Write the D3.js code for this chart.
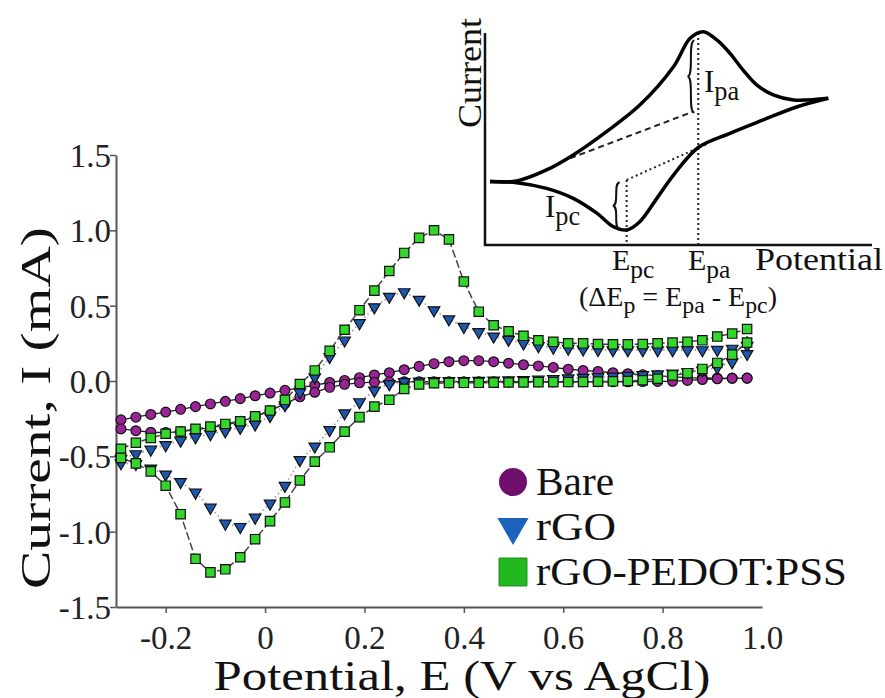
<!DOCTYPE html>
<html>
<head>
<meta charset="utf-8">
<script src="https://cdn.jsdelivr.net/npm/d3@7"></script>
<style>
  body { margin: 0; background: #fff; }
  svg { display: block; }
  svg text { font-family: "Liberation Serif", "Times New Roman", Times, serif !important; }
</style>
</head>
<body>
<svg id="chart" width="885" height="698"></svg>
<script>
// potentials shared by every sweep (V vs AgCl)
const potentials = [-0.29, -0.26, -0.23, -0.20, -0.17, -0.14, -0.11, -0.08, -0.05, -0.02,
  0.01, 0.04, 0.07, 0.10, 0.13, 0.16, 0.19, 0.22, 0.25, 0.28, 0.31, 0.34, 0.37, 0.40,
  0.43, 0.46, 0.49, 0.52, 0.55, 0.58, 0.61, 0.64, 0.67, 0.70, 0.73, 0.76, 0.79, 0.82,
  0.85, 0.88, 0.91, 0.94, 0.97];

// currents (mA), both sweeps listed in order of increasing potential
const bareForward = [-0.258, -0.240, -0.222, -0.206, -0.188, -0.170, -0.152, -0.135, -0.117, -0.098,
  -0.080, -0.062, -0.045, -0.028, -0.010, 0.004, 0.022, 0.040, 0.055, 0.075, 0.097, 0.115, 0.128, 0.135,
  0.135, 0.128, 0.118, 0.108, 0.100, 0.090, 0.078, 0.070, 0.063, 0.055, 0.048, 0.042, 0.036, 0.028,
  0.022, 0.020, 0.019, 0.019, 0.019];
const bareReverse = [-0.318, -0.330, -0.340, -0.342, -0.336, -0.325, -0.310, -0.292, -0.268, -0.238,
  -0.198, -0.150, -0.105, -0.075, -0.042, -0.022, -0.012, -0.008, -0.006, -0.005, -0.005, -0.005, -0.005, -0.005,
  -0.005, -0.005, -0.005, -0.005, -0.005, -0.005, -0.005, -0.005, -0.005, -0.005, -0.005, -0.004, -0.003, -0.002,
  0.004, 0.010, 0.015, 0.018, 0.019];

const rgoForward = [-0.515, -0.485, -0.455, -0.425, -0.395, -0.372, -0.352, -0.333, -0.310, -0.288,
  -0.232, -0.160, -0.075, 0.025, 0.160, 0.270, 0.385, 0.490, 0.560, 0.590, 0.540, 0.470, 0.410, 0.360,
  0.325, 0.296, 0.274, 0.250, 0.232, 0.222, 0.215, 0.210, 0.207, 0.205, 0.205, 0.205, 0.205, 0.205,
  0.205, 0.205, 0.207, 0.215, 0.235];
const rgoReverse = [-0.545, -0.550, -0.580, -0.620, -0.670, -0.740, -0.840, -0.946, -0.968, -0.906,
  -0.813, -0.695, -0.524, -0.434, -0.325, -0.214, -0.140, -0.063, -0.020, -0.006, -0.003, 0.000, 0.000, 0.001,
  0.002, 0.003, 0.005, 0.007, 0.010, 0.014, 0.018, 0.022, 0.026, 0.030, 0.035, 0.040, 0.045, 0.050,
  0.058, 0.070, 0.090, 0.125, 0.180];

const pedotForward = [-0.450, -0.410, -0.378, -0.350, -0.335, -0.318, -0.303, -0.285, -0.267, -0.235,
  -0.196, -0.125, -0.020, 0.070, 0.200, 0.340, 0.470, 0.600, 0.730, 0.850, 0.950, 1.000, 0.940, 0.660,
  0.460, 0.370, 0.330, 0.300, 0.270, 0.260, 0.250, 0.250, 0.245, 0.243, 0.243, 0.245, 0.250, 0.255,
  0.260, 0.270, 0.295, 0.315, 0.345];
const pedotReverse = [-0.510, -0.547, -0.600, -0.695, -0.884, -1.180, -1.270, -1.250, -1.170, -1.050,
  -0.930, -0.806, -0.660, -0.535, -0.440, -0.336, -0.240, -0.170, -0.125, -0.052, -0.023, -0.015, -0.013, -0.012,
  -0.012, -0.011, -0.010, -0.009, -0.008, -0.008, -0.007, -0.006, -0.004, -0.002, 0.000, 0.005, 0.015, 0.037,
  0.052, 0.080, 0.120, 0.175, 0.255];

const seriesNames = ["Bare", "rGO", "rGO-PEDOT:PSS"];
const xTicks = [-0.2, 0, 0.2, 0.4, 0.6, 0.8, 1.0];
const yTicks = [-1.5, -1.0, -0.5, 0.0, 0.5, 1.0, 1.5];

// inset sketch of a generic voltammogram (arbitrary units 0..100)
const insetForward = [[1.3, 29.9], [8.2, 30.2], [15.9, 35.4], [22.8, 42.5], [31.4, 53.5], [40, 66],
  [48.7, 84.1], [53, 97.5], [56.4, 100.6], [59.9, 96.7], [63.3, 90.4], [66.7, 82.5], [70.2, 75.5],
  [74.5, 70.8], [79.7, 68.4], [88.7, 69.2]];
const insetReverse = [[88.7, 69.2], [80.5, 65.1], [71.9, 59], [63.3, 52.7], [55.1, 46], [48.7, 33],
  [44.4, 22], [40, 11], [36.6, 7.1], [33.2, 8.6], [28.9, 15], [22.8, 22], [15.9, 26.7], [8.2, 29.4], [1.3, 29.9]];
const anodicBaseline = [[22, 40.9], [53.8, 62.9]];
const cathodicBaseline = [[36.6, 30.7], [57.3, 47.6]];
const epc = 36.6, epa = 55.1;

const svg = d3.select("#chart");

const x = d3.scaleLinear().domain([-0.3, 1.0]).range([116, 762]);
const y = d3.scaleLinear().domain([-1.5, 1.5]).range([607, 155]);

// axes
const xAxis = svg.append("g")
  .attr("transform", "translate(0,607)")
  .call(d3.axisBottom(x).tickValues(xTicks).tickSize(6).tickSizeOuter(0)
    .tickFormat(d => d === 0 ? "0" : d.toFixed(1)));
xAxis.selectAll(".tick").filter(d => d === 1.0).select("line").remove();
xAxis.select(".domain").attr("stroke", "#555").attr("stroke-width", 2);
xAxis.selectAll(".tick line").attr("stroke", "#555").attr("stroke-width", 1.5);
xAxis.selectAll(".tick text").attr("font-size", 33).attr("fill", "#222").attr("dy", "1.0em");

const yAxis = svg.append("g")
  .attr("transform", "translate(116,0)")
  .call(d3.axisLeft(y).tickValues(yTicks).tickSize(6).tickSizeOuter(0)
    .tickFormat(d => d.toFixed(1)));
yAxis.select(".domain").attr("stroke", "#555").attr("stroke-width", 2);
yAxis.selectAll(".tick line").attr("stroke", "#555").attr("stroke-width", 1.5);
yAxis.selectAll(".tick text").attr("font-size", 33).attr("fill", "#222").attr("x", -5).attr("dy", "0.35em");

svg.append("text")
  .attr("transform", "translate(50,408) rotate(-90)")
  .attr("text-anchor", "middle")
  .attr("font-size", 42).attr("fill", "#111")
  .attr("textLength", 362).attr("lengthAdjust", "spacingAndGlyphs")
  .text("Current, I (mA)");

svg.append("text")
  .attr("x", 462).attr("y", 690)
  .attr("text-anchor", "middle")
  .attr("font-size", 42).attr("fill", "#111")
  .attr("textLength", 497).attr("lengthAdjust", "spacingAndGlyphs")
  .text("Potential, E (V vs AgCl)");

// data
const series = [
  { name: seriesNames[0], fwd: bareForward, rev: bareReverse, symbol: d3.symbolCircle, size: 76, rotate: 0,
    fill: "#9a2496", legendFill: "#6e0f6c", stroke: "#222", width: 1.3, dash: null, labelLen: 78 },
  { name: seriesNames[1], fwd: rgoForward, rev: rgoReverse, symbol: d3.symbolTriangle, size: 58, rotate: 180,
    fill: "#1d58b0", legendFill: "#1a63bd", stroke: "#999", width: 1.6, dash: "1.5,3", labelLen: 80 },
  { name: seriesNames[2], fwd: pedotForward, rev: pedotReverse, symbol: d3.symbolSquare, size: 88, rotate: 0,
    fill: "#33d62a", legendFill: "#22b820", stroke: "#444", width: 1.5, dash: "8,3", labelLen: 311 }
];

const line = d3.line().x(d => x(d[0])).y(d => y(d[1]));

series.forEach(s => {
  const fwd = potentials.map((e, i) => [e, s.fwd[i]]);
  const rev = potentials.map((e, i) => [e, s.rev[i]]).reverse();
  const pts = fwd.concat(rev);
  const g = svg.append("g");
  g.append("path")
    .attr("d", line(pts))
    .attr("fill", "none")
    .attr("stroke", s.stroke)
    .attr("stroke-width", s.width)
    .attr("stroke-dasharray", s.dash);
  g.selectAll("path.pt")
    .data(pts)
    .join("path")
    .attr("class", "pt")
    .attr("d", d3.symbol().type(s.symbol).size(s.size))
    .attr("transform", d => `translate(${x(d[0])},${y(d[1])}) rotate(${s.rotate})`)
    .attr("fill", s.fill)
    .attr("stroke", "#111")
    .attr("stroke-width", 1.2);
});

// legend
const legend = svg.append("g");
series.forEach((s, i) => {
  const cy = 482 + i * 45;
  const big = [616, 420, 780][i];
  legend.append("path")
    .attr("d", d3.symbol().type(s.symbol).size(big))
    .attr("transform", `translate(513,${cy}) rotate(${s.rotate})`)
    .attr("fill", s.legendFill)
    .attr("stroke", i === 2 ? "#1a8a18" : "none")
    .attr("stroke-width", 1);
  legend.append("text")
    .attr("x", 536).attr("y", cy + 13)
    .attr("font-size", 40).attr("fill", "#111")
    .attr("textLength", s.labelLen).attr("lengthAdjust", "spacingAndGlyphs")
    .text(s.name);
});

// inset
const ix = d3.scaleLinear().domain([0, 100]).range([485, 872]);
const iy = d3.scaleLinear().domain([0, 100]).range([245, 33]);
const inset = svg.append("g");
const iline = d3.line().x(d => ix(d[0])).y(d => iy(d[1]));
const icurve = d3.line().x(d => ix(d[0])).y(d => iy(d[1])).curve(d3.curveCatmullRom.alpha(0.5));

inset.append("path")
  .attr("d", iline([[0, 100], [0, 0], [100, 0]]))
  .attr("fill", "none").attr("stroke", "#111").attr("stroke-width", 2.5);

inset.append("path").attr("d", iline(anodicBaseline))
  .attr("fill", "none").attr("stroke", "#222").attr("stroke-width", 2).attr("stroke-dasharray", "6,4");
inset.append("path").attr("d", iline(cathodicBaseline))
  .attr("fill", "none").attr("stroke", "#222").attr("stroke-width", 2).attr("stroke-dasharray", "2,3");
inset.append("path").attr("d", iline([[epc, 30.7], [epc, 0]]))
  .attr("fill", "none").attr("stroke", "#222").attr("stroke-width", 2).attr("stroke-dasharray", "2,3");
inset.append("path").attr("d", iline([[epa, 100], [epa, 0]]))
  .attr("fill", "none").attr("stroke", "#222").attr("stroke-width", 2).attr("stroke-dasharray", "2,3");

inset.append("path").attr("d", icurve(insetForward))
  .attr("fill", "none").attr("stroke", "#000").attr("stroke-width", 3.5);
inset.append("path").attr("d", icurve(insetReverse))
  .attr("fill", "none").attr("stroke", "#000").attr("stroke-width", 3.5);

function brace(px, y1, y2, w) {
  const m = (y1 + y2) / 2;
  return `M${px + w},${y1} C${px},${y1} ${px + w},${m} ${px},${m} C${px + w},${m} ${px},${y2} ${px + w},${y2}`;
}
inset.append("path").attr("d", brace(ix(52.3), iy(96.5), iy(62.5), 7))
  .attr("fill", "none").attr("stroke", "#111").attr("stroke-width", 2);
inset.append("path").attr("d", brace(ix(33), iy(29.5), iy(7.5), 7))
  .attr("fill", "none").attr("stroke", "#111").attr("stroke-width", 2);

function subText(g, px, py, parts, size) {
  const t = g.append("text").attr("x", px).attr("y", py).attr("font-size", size).attr("fill", "#111");
  let shifted = false;
  parts.forEach(([str, sub]) => {
    const sp = t.append("tspan").text(str);
    if (sub && !shifted) { sp.attr("dy", size * 0.25).attr("font-size", size * 0.85); shifted = true; }
    else if (sub) sp.attr("font-size", size * 0.85);
    else if (shifted) { sp.attr("dy", -size * 0.25); shifted = false; }
  });
  return t;
}

inset.append("text")
  .attr("transform", "translate(481,73) rotate(-90)")
  .attr("text-anchor", "middle")
  .attr("font-size", 33).attr("fill", "#111")
  .attr("textLength", 110).attr("lengthAdjust", "spacingAndGlyphs")
  .text("Current");

subText(inset, 704, 92, [["I", false], ["pa", true]], 31);
subText(inset, 545, 217, [["I", false], ["pc", true]], 31);
subText(inset, 612, 270, [["E", false], ["pc", true]], 30);
subText(inset, 688, 270, [["E", false], ["pa", true]], 30);
inset.append("text").attr("x", 755).attr("y", 270).attr("font-size", 31).attr("fill", "#111")
  .attr("textLength", 128).attr("lengthAdjust", "spacingAndGlyphs").text("Potential");
subText(inset, 579, 306, [["(ΔE", false], ["p", true], [" = E", false], ["pa", true], [" - E", false], ["pc", true], [")", false]], 28);
</script>
</body>
</html>
